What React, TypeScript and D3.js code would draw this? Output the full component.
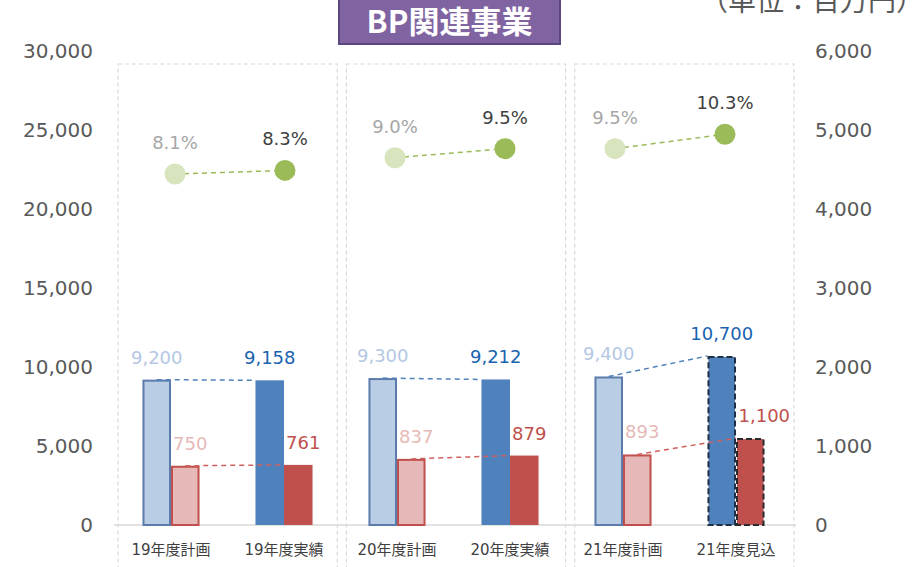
import React, { useEffect, useRef } from "react";
import * as d3 from "d3";

const categories = ["19年度計画", "19年度実績", "20年度計画", "20年度実績", "21年度計画", "21年度見込"];
const kinds = ["plan", "actual", "plan", "actual", "plan", "forecast"];
const sales = [9200, 9158, 9300, 9212, 9400, 10700];
const profit = [750, 761, 837, 879, 893, 1100];
const marginPct = [8.1, 8.3, 9.0, 9.5, 9.5, 10.3];
const panels = ["19年度", "20年度", "21年度"];
const leftTicks = [0, 5000, 10000, 15000, 20000, 25000, 30000];
const rightTicks = [0, 1000, 2000, 3000, 4000, 5000, 6000];

const NUM_FONT = "'DejaVu Sans', Verdana, 'Noto Sans CJK JP', sans-serif";
const JP_FONT = "'Noto Sans CJK JP', sans-serif";

const App = () => {
  const svgRef = useRef<SVGSVGElement>(null);

  useEffect(() => {
    const svg = d3.select(svgRef.current);
    svg.selectAll("*").remove();

    const top = 51;
    const bottom = 525;

    const yLeft = d3.scaleLinear().domain([0, 30000]).range([bottom, top]);
    const yRight = d3.scaleLinear().domain([0, 6000]).range([bottom, top]);
    // hidden axis for the margin ratio series
    const yPct = d3.scaleLinear().domain([-11.3, 14.9]).range([bottom, top]);

    const x0 = d3.scaleBand().domain(categories).range([114.5, 792.5]);
    const x1 = d3
      .scaleBand()
      .domain(["sales", "profit"])
      .range([0, x0.bandwidth()])
      .paddingInner(0)
      .paddingOuter(0.98);
    const xDot = d3.scaleBand().domain(categories).range([120, 780]);
    const xPanel = d3.scaleBand().domain(panels).range([118, 794]).paddingInner(0.04);

    // panels (dashed boxes)
    svg
      .append("g")
      .selectAll("rect")
      .data(panels)
      .enter()
      .append("rect")
      .attr("x", (d) => xPanel(d)!)
      .attr("y", 64)
      .attr("width", xPanel.bandwidth())
      .attr("height", 520)
      .attr("fill", "none")
      .attr("stroke", "#d9d9d9")
      .attr("stroke-width", 1.2)
      .attr("stroke-dasharray", "4,3");

    // x axis line
    svg
      .append("line")
      .attr("x1", 114)
      .attr("x2", 796)
      .attr("y1", bottom)
      .attr("y2", bottom)
      .attr("stroke", "#d9d9d9")
      .attr("stroke-width", 1.5);

    // left axis labels
    svg
      .append("g")
      .selectAll("text")
      .data(leftTicks)
      .enter()
      .append("text")
      .attr("x", 93)
      .attr("y", (d) => yLeft(d))
      .attr("dy", "0.36em")
      .attr("text-anchor", "end")
      .style("font-family", NUM_FONT)
      .style("font-size", "20px")
      .style("fill", "#595959")
      .text((d) => d3.format(",")(d));

    // right axis labels
    svg
      .append("g")
      .selectAll("text")
      .data(rightTicks)
      .enter()
      .append("text")
      .attr("x", 815)
      .attr("y", (d) => yRight(d))
      .attr("dy", "0.36em")
      .attr("text-anchor", "start")
      .style("font-family", NUM_FONT)
      .style("font-size", "20px")
      .style("fill", "#595959")
      .text((d) => d3.format(",")(d));

    // x labels
    svg
      .append("g")
      .selectAll("text")
      .data(categories)
      .enter()
      .append("text")
      .attr("x", (d) => x0(d)! + x0.bandwidth() / 2)
      .attr("y", 555)
      .attr("text-anchor", "middle")
      .style("font-family", NUM_FONT)
      .style("font-size", "15px")
      .style("fill", "#404040")
      .text((d) => d);

    const fills = {
      plan: ["#b9cde5", "#e6b9b8"],
      actual: ["#4f81bd", "#c0504d"],
      forecast: ["#4f81bd", "#c0504d"],
    };
    const strokes = {
      plan: ["#5a7bab", "#c0504d"],
      actual: ["none", "none"],
      forecast: ["#1f2f44", "#2a2a2a"],
    };

    const bars = svg.append("g");
    categories.forEach((c, i) => {
      const k = kinds[i];
      const bx = x0(c)!;
      const vals = [
        { key: "sales", y: yLeft(sales[i]) },
        { key: "profit", y: yRight(profit[i]) },
      ];
      vals.forEach((v, j) => {
        const inset = k === "actual" ? 0 : 1;
        bars
          .append("rect")
          .attr("x", bx + x1(v.key)! + inset)
          .attr("y", v.y + inset)
          .attr("width", x1.bandwidth() - inset * 2)
          .attr("height", bottom - v.y - inset)
          .attr("fill", fills[k][j])
          .attr("stroke", strokes[k][j])
          .attr("stroke-width", 2)
          .attr("stroke-dasharray", k === "forecast" ? "6,3" : null);
      });
    });

    // connector lines plan -> actual (bars)
    const conn = svg.append("g");
    [0, 2, 4].forEach((i) => {
      const a = categories[i];
      const b = categories[i + 1];
      conn
        .append("line")
        .attr("x1", x0(a)! + x1("sales")! + x1.bandwidth() / 2)
        .attr("y1", yLeft(sales[i]))
        .attr("x2", x0(b)! + x1("sales")!)
        .attr("y2", yLeft(sales[i + 1]))
        .attr("stroke", "#4f81bd")
        .attr("stroke-width", 1.5)
        .attr("stroke-dasharray", "5,4");
      conn
        .append("line")
        .attr("x1", x0(a)! + x1("profit")! + x1.bandwidth() / 2)
        .attr("y1", yRight(profit[i]))
        .attr("x2", x0(b)! + x1("profit")!)
        .attr("y2", yRight(profit[i + 1]))
        .attr("stroke", "#d0605d")
        .attr("stroke-width", 1.5)
        .attr("stroke-dasharray", "5,4");
      // margin connector
      conn
        .append("line")
        .attr("x1", xDot(a)! + xDot.bandwidth() / 2)
        .attr("y1", yPct(marginPct[i]))
        .attr("x2", xDot(b)! + xDot.bandwidth() / 2)
        .attr("y2", yPct(marginPct[i + 1]))
        .attr("stroke", "#9bbb59")
        .attr("stroke-width", 1.5)
        .attr("stroke-dasharray", "5,4");
    });

    // margin dots
    svg
      .append("g")
      .selectAll("circle")
      .data(categories)
      .enter()
      .append("circle")
      .attr("cx", (d) => xDot(d)! + xDot.bandwidth() / 2)
      .attr("cy", (d, i) => yPct(marginPct[i]))
      .attr("r", 10.5)
      .attr("fill", (d, i) => (kinds[i] === "plan" ? "#d7e4bd" : "#9bbb59"));

    // data labels
    const labels = svg.append("g").style("font-family", NUM_FONT).style("font-size", "18px");
    categories.forEach((c, i) => {
      const plan = kinds[i] === "plan";
      labels
        .append("text")
        .attr("x", x0(c)! + x1("sales")! + x1.bandwidth() / 2)
        .attr("y", yLeft(sales[i]) - 16)
        .attr("text-anchor", "middle")
        .style("fill", plan ? "#b4c8e4" : "#1a63b0")
        .text(d3.format(",")(sales[i]));
      labels
        .append("text")
        .attr("x", x0(c)! + x1("profit")! + x1.bandwidth() / 2 + (kinds[i] === "forecast" ? 14 : 5))
        .attr("y", yRight(profit[i]) - 16)
        .attr("text-anchor", "middle")
        .style("fill", plan ? "#e6b9b8" : "#c0504d")
        .text(d3.format(",")(profit[i]));
      labels
        .append("text")
        .attr("x", xDot(c)! + xDot.bandwidth() / 2)
        .attr("y", yPct(marginPct[i]) - 25)
        .attr("text-anchor", "middle")
        .style("fill", plan ? "#a6a6a6" : "#404040")
        .text(marginPct[i].toFixed(1) + "%");
    });

    // title box
    svg
      .append("rect")
      .attr("x", 339)
      .attr("y", -5)
      .attr("width", 221)
      .attr("height", 49)
      .attr("fill", "#8064a2")
      .attr("stroke", "#5c4680")
      .attr("stroke-width", 2);
    svg
      .append("text")
      .attr("x", 449.5)
      .attr("y", 33)
      .attr("text-anchor", "middle")
      .style("font-family", JP_FONT)
      .style("font-weight", "bold")
      .style("font-size", "31px")
      .style("fill", "#ffffff")
      .text("BP関連事業");

    // unit note (cut off at the top, as in the source slide)
    svg
      .append("text")
      .attr("x", 700)
      .attr("y", 11)
      .attr("text-anchor", "start")
      .style("font-family", JP_FONT)
      .style("font-size", "28px")
      .style("fill", "#595959")
      .text("（単位：百万円）");
  }, []);

  return (
    <svg
      ref={svgRef}
      width={916}
      height={567}
      style={{ position: "absolute", left: 0, top: 0, background: "#ffffff" }}
    ></svg>
  );
};

export default App;
